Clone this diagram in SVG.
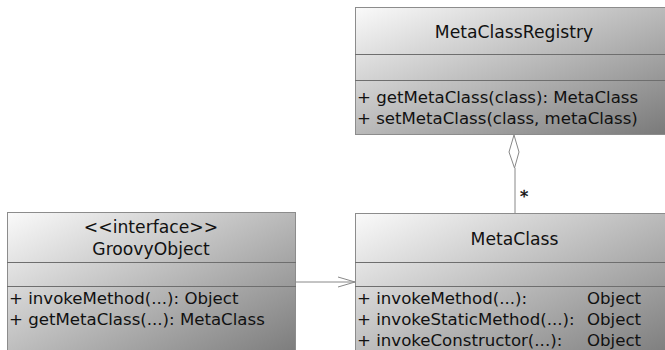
<svg xmlns="http://www.w3.org/2000/svg" width="665" height="350" viewBox="0 0 665 350">
  <defs>
    <linearGradient id="boxFill" x1="0" y1="0" x2="1" y2="1">
      <stop offset="0" stop-color="#fafafa"/>
      <stop offset="1" stop-color="#787878"/>
    </linearGradient>
    <marker id="openArrow" markerWidth="20" markerHeight="14" refX="17" refY="6" orient="auto" markerUnits="userSpaceOnUse">
      <path d="M0,1 L17,6 L0,11" fill="none" stroke="#888" stroke-width="1"/>
    </marker>
  </defs>
  <style>
    .box { fill: url(#boxFill); stroke: #8c8c8c; stroke-width: 1; }
    .sep { stroke: #6e6e6e; stroke-width: 1; }
    text { font-family: "DejaVu Sans", "Liberation Sans", sans-serif; font-size: 16.6px; fill: #111; }
    .title { text-anchor: middle; font-size: 17.2px; }
    .conn { fill: none; stroke: #888; stroke-width: 1; }
  </style>
  <rect width="665" height="350" fill="#ffffff"/>

  <!-- connectors -->
  <g id="connectors">
    <!-- aggregation: MetaClassRegistry (whole) to MetaClass (part) -->
    <path class="conn" d="M514,135 L519,152 L514.5,168 L509,152 Z" fill="#fff"/>
    <line class="conn" x1="515" y1="168" x2="515" y2="213"/>
    <text x="520" y="202" font-size="24" stroke="#111" stroke-width="0.4">*</text>
    <!-- dependency: GroovyObject to MetaClass -->
    <line class="conn" x1="295" y1="282" x2="355" y2="282" marker-end="url(#openArrow)"/>
  </g>

  <g id="MetaClassRegistry">
    <rect class="box" x="355.5" y="7.5" width="318" height="127"/>
    <line class="sep" x1="355" y1="54.5" x2="674" y2="54.5"/>
    <line class="sep" x1="355" y1="80.5" x2="674" y2="80.5"/>
    <text class="title" x="514" y="38">MetaClassRegistry</text>
    <text x="357" y="103">+ getMetaClass(class): MetaClass</text>
    <text x="357" y="124">+ setMetaClass(class, metaClass)</text>
  </g>

  <g id="GroovyObject">
    <rect class="box" x="7.5" y="212.5" width="288" height="150"/>
    <line class="sep" x1="7" y1="262.5" x2="296" y2="262.5"/>
    <line class="sep" x1="7" y1="286.5" x2="296" y2="286.5"/>
    <text class="title" x="151" y="233">&lt;&lt;interface&gt;&gt;</text>
    <text class="title" x="151" y="255">GroovyObject</text>
    <text x="9" y="304">+ invokeMethod(...): Object</text>
    <text x="9" y="325">+ getMetaClass(...): MetaClass</text>
  </g>

  <g id="MetaClass">
    <rect class="box" x="355.5" y="213.5" width="318" height="150"/>
    <line class="sep" x1="355" y1="262.5" x2="674" y2="262.5"/>
    <line class="sep" x1="355" y1="286.5" x2="674" y2="286.5"/>
    <text class="title" x="514.5" y="245">MetaClass</text>
    <text x="357" y="304">+ invokeMethod(...):</text>
    <text x="587" y="304">Object</text>
    <text x="357" y="325">+ invokeStaticMethod(...):</text>
    <text x="587" y="325">Object</text>
    <text x="357" y="346">+ invokeConstructor(...):</text>
    <text x="587" y="346">Object</text>
  </g>
</svg>
